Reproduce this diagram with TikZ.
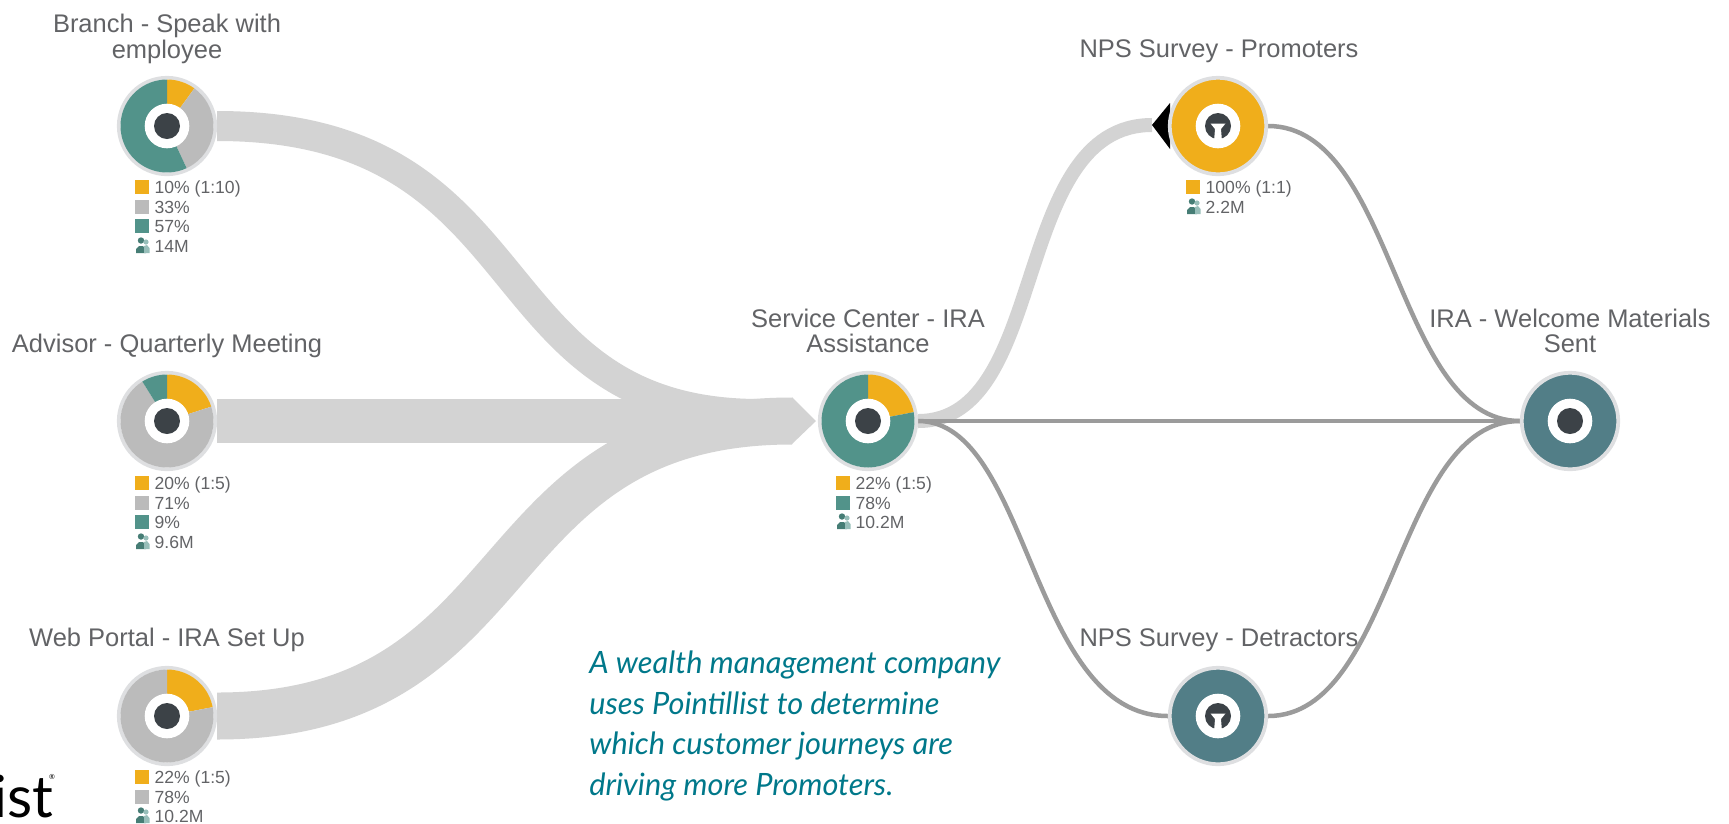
\documentclass[tikz,border=0pt]{standalone}
\usepackage{fontspec}
\setmainfont{Liberation Sans}
\newfontfamily\notefont{Lato}
\usetikzlibrary{backgrounds,calc}

\definecolor{pieyellow}{HTML}{F0AE1B}
\definecolor{piegray}{HTML}{BBBBBB}
\definecolor{pieteal}{HTML}{52938A}
\definecolor{stopteal}{HTML}{527E87}
\definecolor{ringgray}{HTML}{DEDFE1}
\definecolor{bandgray}{HTML}{D3D3D3}
\definecolor{linegray}{HTML}{9B9B9B}
\definecolor{hubdark}{HTML}{3C4247}
\definecolor{labelgray}{HTML}{626366}
\definecolor{notecolor}{HTML}{00788A}

\tikzset{
  stopnode/.style={circle,draw=ringgray,line width=0.075cm,inner sep=0,minimum size=1.93cm},
  stoplabel/.style={text=labelgray,align=center,font=\fontsize{14.5}{14.5}\selectfont},
  swatch/.style={inner sep=0,minimum size=0.28cm},
  legendtext/.style={anchor=west,inner sep=0,xshift=0.1cm,text=labelgray,text height=0.25cm,text depth=0cm,font=\fontsize{10}{10}\selectfont},
  bigband/.style={draw=bandgray,line width=0.94cm},
  midband/.style={draw=bandgray,line width=0.88cm},
  smallband/.style={draw=bandgray,line width=0.6cm},
  thinband/.style={draw=bandgray,line width=0.28cm},
  grayline/.style={draw=linegray,line width=0.09cm}
}

% angles run clockwise from the top
\newcommand{\pieslice}[4]{\fill[#4,shift={(#1)}] (0,0) -- plot[domain=#2:#3,samples=40] ({46.5*sin(\x)},{-46.5*cos(\x)}) -- cycle;}
\newcommand{\hub}[1]{\fill[white] (#1) circle (22.3); \fill[hubdark] (#1) circle (13);}
\newcommand{\funnel}[1]{\fill[white] ($(#1)+(-7.5,-2.5)$) -- ++(15,0) -- ++(-4.5,5.5) -- ++(0.8,10) -- ++(-7.6,0) -- ++(0.8,-10) -- cycle;}
\newcommand{\legendrow}[5]{\node[swatch,fill=#4] (#1) at (#2,#3) {}; \node[legendtext] (#1text) at (#1.east) {#5};}
\newcommand{\peoplerow}[4]{%
  \node[swatch] (#1) at (#2,#3) {};
  \fill[pieteal!85!black] ($(#1)+(-1,-5.5)$) circle (3.2);
  \fill[pieteal!85!black] ($(#1)+(-6,7)$) -- ++(0,-4) -- ++(3,-3) -- ++(4,0) -- ++(3,3) -- ++(0,4) -- cycle;
  \fill[pieteal!60] ($(#1)+(4,-4)$) circle (2.6);
  \fill[pieteal!60] ($(#1)+(2,0)$) -- ++(3,-1) -- ++(2.5,3) -- ++(0,5) -- ++(-5.5,0) -- cycle;
  \node[legendtext] (#1text) at (#1.east) {#4};}

\begin{document}
\begin{tikzpicture}[x=0.02cm,y=-0.02cm]
  \useasboundingbox (0,0) rectangle (1729,823);

  % stops
  \node[stopnode] (branch) at (167,126) {};
  \node[stopnode] (advisor) at (167,421) {};
  \node[stopnode] (webportal) at (167,716) {};
  \node[stopnode] (service) at (868,421) {};
  \node[stopnode,fill=pieyellow] (promoters) at (1218,126) {};
  \node[stopnode,fill=stopteal] (detractors) at (1218,716) {};
  \node[stopnode,fill=stopteal] (welcome) at (1570,421) {};
  \coordinate (merge) at (792,421);

  % pies
  \pieslice{branch}{0}{36}{pieyellow}
  \pieslice{branch}{36}{155}{piegray}
  \pieslice{branch}{155}{360}{pieteal}
  \pieslice{advisor}{0}{72}{pieyellow}
  \pieslice{advisor}{72}{328}{piegray}
  \pieslice{advisor}{328}{360}{pieteal}
  \pieslice{webportal}{0}{79}{pieyellow}
  \pieslice{webportal}{79}{360}{piegray}
  \pieslice{service}{0}{79}{pieyellow}
  \pieslice{service}{79}{360}{pieteal}

  \hub{branch} \hub{advisor} \hub{webportal} \hub{service}
  \hub{promoters} \hub{detractors} \hub{welcome}
  \funnel{promoters} \funnel{detractors}

  % connectors
  \begin{scope}[on background layer]
    \draw[smallband] (branch) .. controls (545,126) and (475,414) .. (760,414);
    \draw[midband] (advisor) -- (merge);
    \draw[bigband] (webportal) .. controls (535,716) and (475,421) .. (merge);
    \fill[bandgray] ($(merge)+(0,-24)$) -- (816,421) -- ($(merge)+(0,23)$) -- cycle;

    \coordinate (promotertip) at (1152,125);
    \draw[thinband] (service) .. controls (1050,421) and (1010,125) .. (promotertip);
    \fill[black] (promotertip) -- (1170,103) -- (1170,149) -- cycle;

    \draw[grayline] (service) -- (welcome);
    \draw[grayline] (service) .. controls (1030,421) and (1030,716) .. (detractors);
    \draw[grayline] (promoters) .. controls (1395,126) and (1395,421) .. (welcome);
    \draw[grayline] (detractors) .. controls (1395,716) and (1395,421) .. (welcome);
  \end{scope}

  % labels
  \node[stoplabel] (branchlabel) at (167,39) {Branch - Speak with\\employee};
  \node[stoplabel] (advisorlabel) at (167,346) {Advisor - Quarterly Meeting};
  \node[stoplabel] (webportallabel) at (167,640) {Web Portal - IRA Set Up};
  \node[stoplabel] (servicelabel) at (868,331) {Service Center - IRA\\Assistance};
  \node[stoplabel] (promoterslabel) at (1219,51) {NPS Survey - Promoters};
  \node[stoplabel] (detractorslabel) at (1219,640) {NPS Survey - Detractors};
  \node[stoplabel] (welcomelabel) at (1570,331) {IRA - Welcome Materials\\Sent};

  % legends
  \legendrow{brancha}{142}{187}{pieyellow}{10\% (1:10)}
  \legendrow{branchb}{142}{207}{piegray}{33\%}
  \legendrow{branchc}{142}{226}{pieteal}{57\%}
  \peoplerow{branchd}{142}{246}{14M}
  \legendrow{advisora}{142}{483}{pieyellow}{20\% (1:5)}
  \legendrow{advisorb}{142}{503}{piegray}{71\%}
  \legendrow{advisorc}{142}{522}{pieteal}{9\%}
  \peoplerow{advisord}{142}{542}{9.6M}
  \legendrow{weba}{142}{777}{pieyellow}{22\% (1:5)}
  \legendrow{webb}{142}{797}{piegray}{78\%}
  \peoplerow{webc}{142}{816}{10.2M}
  \legendrow{servicea}{843}{483}{pieyellow}{22\% (1:5)}
  \legendrow{serviceb}{843}{503}{pieteal}{78\%}
  \peoplerow{servicec}{843}{522}{10.2M}
  \legendrow{promotersa}{1193}{187}{pieyellow}{100\% (1:1)}
  \peoplerow{promotersb}{1193}{207}{2.2M}

  % note and logo
  \node[anchor=west,inner sep=0,align=left,text=notecolor,
    font=\notefont\itshape\fontsize{17.5}{23.2}\selectfont] (note) at (589,726)
    {A wealth management company\\uses Pointillist to determine\\which customer journeys are\\driving more Promoters.};
  \node[anchor=base west,inner sep=0,font=\notefont\fontsize{33}{33}\selectfont] (logo) at (-7,817) {ist};
  \node[anchor=center,inner sep=0,font=\notefont\fontsize{4}{4}\selectfont] (logomark) at (52,777) {\textregistered};
\end{tikzpicture}
\end{document}
